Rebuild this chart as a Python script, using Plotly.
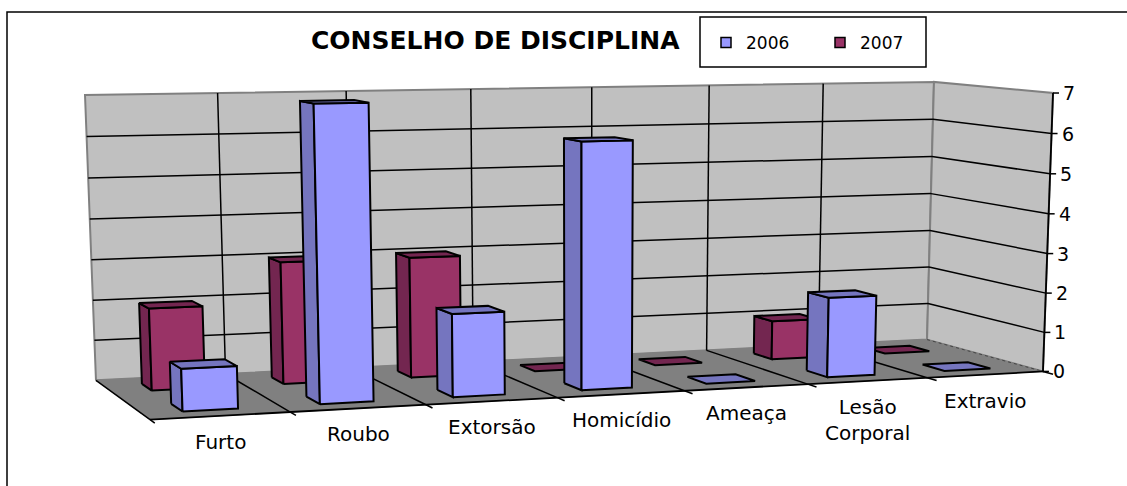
import numpy as np
import plotly.graph_objects as go

categorias = ["Furto", "Roubo", "Extorsão", "Homicídio", "Ameaça", "Lesão<br>Corporal", "Extravio"]
valores_2006 = [1, 7, 2, 6, 0, 2, 0]
valores_2007 = [2, 3, 3, 0, 0, 1, 0]
ticks_valor = [0, 1, 2, 3, 4, 5, 6, 7]

# cantos da caixa 3D (u, v, w) -> pixel, usados para calibrar a perspectiva
CANTOS = [
    ((0, 0, 0), (96, 381)), ((1, 0, 0), (927, 339)), ((1, 1, 0), (1043, 372)), ((0, 1, 0), (150, 419)),
    ((0, 0, 1), (85, 95)), ((1, 0, 1), (934, 82)), ((1, 1, 1), (1053, 93)),
]

def calibrar(cantos):
    linhas = []
    for (u, v, w), (px, py) in cantos:
        linhas.append([u, v, w, 1, 0, 0, 0, 0, -px*u, -px*v, -px*w, -px])
        linhas.append([0, 0, 0, 0, u, v, w, 1, -py*u, -py*v, -py*w, -py])
    _, _, vt = np.linalg.svd(np.array(linhas, dtype=float))
    return vt[-1].reshape(3, 4)

P = calibrar(CANTOS)
N = len(categorias)
VMAX = ticks_valor[-1]

def proj(cat, prof, valor):
    h = P @ np.array([cat / N, prof, valor / VMAX, 1.0])
    return h[0] / h[2], h[1] / h[2]

fig = go.Figure()

def poligono(pontos, cor, linha="black", larg=2):
    xy = [proj(*p) for p in pontos]
    xs = [a for a, b in xy] + [xy[0][0]]
    ys = [b for a, b in xy] + [xy[0][1]]
    fig.add_trace(go.Scatter(x=xs, y=ys, mode="lines", fill="toself", fillcolor=cor,
                             line=dict(color=linha, width=larg), hoverinfo="skip", showlegend=False))

def segmento(a, b, cor="black", larg=1.5, dash=None):
    p, q = proj(*a), proj(*b)
    fig.add_trace(go.Scatter(x=[p[0], q[0]], y=[p[1], q[1]], mode="lines",
                             line=dict(color=cor, width=larg, dash=dash), hoverinfo="skip", showlegend=False))

# paredes e chao
poligono([(0, 0, 0), (N, 0, 0), (N, 0, VMAX), (0, 0, VMAX)], "#C0C0C0", "#808080", 2)
poligono([(N, 0, 0), (N, 1, 0), (N, 1, VMAX), (N, 0, VMAX)], "#C0C0C0", "#808080", 2)
poligono([(0, 0, 0), (N, 0, 0), (N, 1, 0), (0, 1, 0)], "#808080", "#808080", 1)

for t in ticks_valor[1:-1]:
    segmento((0, 0, t), (N, 0, t))
    segmento((N, 0, t), (N, 1, t))
for i in range(1, N):
    segmento((i, 0, 0), (i, 0, VMAX))
    segmento((i, 0, 0), (i, 1, 0))
segmento((0, 0, 0), (0, 1, 0))
segmento((0, 1, 0), (N, 1, 0), larg=1.8)
segmento((N, 0, 0), (N, 1, 0), "#444444", 1, "dot")
segmento((N, 1, 0), (N, 1, VMAX), larg=1.8)
for i in range(N + 1):
    segmento((i, 1, 0), (i, 1.08, 0))

def barra(i, v0, v1, valor, frente, lado):
    u0, u1 = i + 0.29, i + 0.69
    if valor > 0:
        poligono([(u0, v0, 0), (u0, v1, 0), (u0, v1, valor), (u0, v0, valor)], lado)
        poligono([(u0, v1, 0), (u1, v1, 0), (u1, v1, valor), (u0, v1, valor)], frente)
    poligono([(u0, v0, valor), (u1, v0, valor), (u1, v1, valor), (u0, v1, valor)], lado)

# fila de tras primeiro, depois a da frente
for i in range(N):
    barra(i, 0.15, 0.33, valores_2007[i], "#993366", "#732650")
for i in range(N):
    barra(i, 0.67, 0.86, valores_2006[i], "#9999FF", "#7575BF")

# entradas da legenda
for nome, cor in [("2006", "#9999FF"), ("2007", "#993366")]:
    fig.add_trace(go.Scatter(x=[None], y=[None], mode="markers", name=nome,
                             marker=dict(symbol="square", size=10, color=cor, line=dict(color="black", width=1.5))))

anotacoes = []
for i, c in enumerate(categorias):
    x, y = proj(i + 0.5, 1, 0)
    anotacoes.append(dict(x=x, y=y + 12, text=c, showarrow=False, xanchor="center", yanchor="top"))
for t in ticks_valor:
    x, y = proj(N, 1, t)
    anotacoes.append(dict(x=x + 8, y=y, text=str(t), showarrow=False, xanchor="left", yanchor="middle",
                          font=dict(size=19)))
    # marca do eixo
    fig.add_trace(go.Scatter(x=[x, x + 6], y=[y, y], mode="lines", line=dict(color="black", width=1.5),
                             hoverinfo="skip", showlegend=False))
anotacoes.append(dict(x=495, y=40, text="<b>CONSELHO DE DISCIPLINA</b>", showarrow=False,
                      xanchor="center", yanchor="middle", font=dict(size=25)))

fig.update_layout(
    width=1127, height=486,
    margin=dict(l=0, r=0, t=0, b=0),
    paper_bgcolor="white", plot_bgcolor="white",
    font=dict(family="DejaVu Sans", size=20, color="black"),
    xaxis=dict(range=[0, 1127], visible=False, fixedrange=True),
    yaxis=dict(range=[486, 0], visible=False, fixedrange=True),
    annotations=anotacoes,
    legend=dict(orientation="h", x=706 / 1127, y=1 - 25 / 486, xanchor="left", yanchor="top",
                bgcolor="rgba(0,0,0,0)", font=dict(size=17),
                entrywidth=69, entrywidthmode="pixels"),
    shapes=[
        dict(type="rect", xref="x", yref="y", x0=7, y0=12, x1=1135, y1=495,
             line=dict(color="black", width=1.5), fillcolor="rgba(0,0,0,0)", layer="below"),
        dict(type="rect", xref="x", yref="y", x0=700, y0=17, x1=926, y1=67,
             line=dict(color="black", width=1.5), fillcolor="white", layer="below"),
    ],
)
fig.write_html("out.html", config={"displayModeBar": False}, post_script="document.body.style.margin='0';")
